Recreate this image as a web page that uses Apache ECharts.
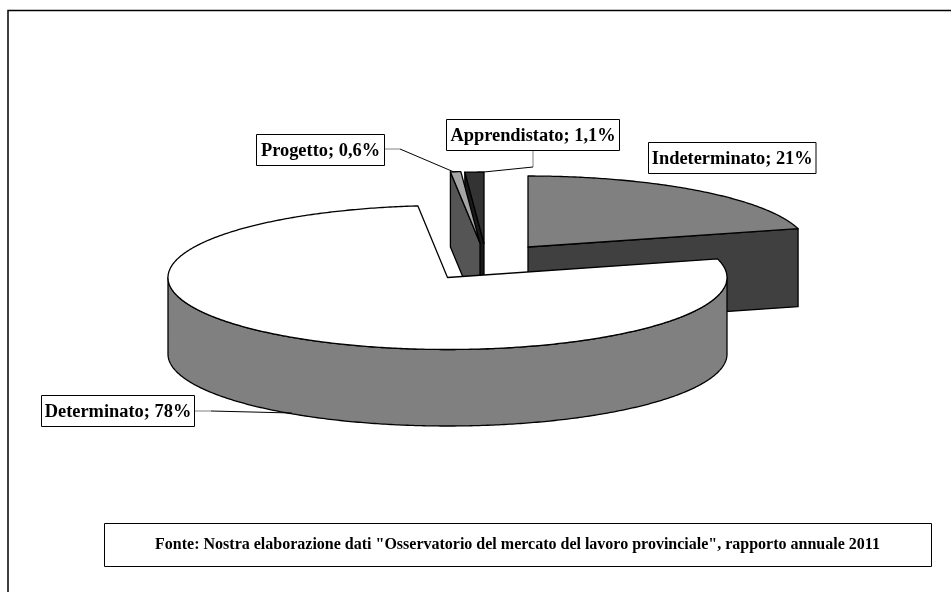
<!DOCTYPE html>
<html>
<head>
<meta charset="utf-8">
<style>
  html, body { margin: 0; padding: 0; background: #fff; }
  #chart { width: 951px; height: 592px; }
</style>
<script src="https://cdn.jsdelivr.net/npm/echarts@6/dist/echarts.min.js"></script>
</head>
<body>
<div id="chart"></div>
<script>
const categories = ['Indeterminato', 'Determinato', 'Progetto', 'Apprendistato']
const shares = [21, 78, 0.6, 1.1]
const shareLabels = ['21%', '78%', '0,6%', '1,1%']
const sourceNote = 'Fonte: Nostra elaborazione dati "Osservatorio del mercato del lavoro provinciale", rapporto annuale 2011'

const topColors = ['#808080', '#ffffff', '#a6a6a6', '#333333']
const sideColors = ['#404040', '#808080', '#555555', '#1a1a1a']

// exploded centre of every slice, painted back to front with z2
const centres = [[528, 247], [447.5, 277.5], [480, 243], [484, 243.5]]
const paintOrder = [0, 3, 2, 1]
const RX = 279.5
const radiiY = [71, 72, 71.5, 71.5]
const depths = [78, 76.5, 75, 75]

const labelBoxes = [
  { x: 648.5, y: 142.5, w: 167.5, h: 31 },
  { x: 41.5, y: 395.5, w: 153, h: 31 },
  { x: 256.5, y: 134.5, w: 128, h: 31 },
  { x: 446.5, y: 119.5, w: 173, h: 31 }
]
// first segment of a leader is the grey stub leaving the box
const leaders = [
  null,
  [[194.5, 411], [211, 411], [292, 413]],
  [[384.5, 149], [400, 149], [454, 172]],
  [[533, 150.5], [533, 167], [484, 172]]
]

const total = shares.reduce((a, b) => a + b, 0)
const angles = []
let acc = 0
shares.forEach((v) => {
  const start = acc
  acc += (v / total) * Math.PI * 2
  angles.push([start, acc])
})

function rimPoint(i, a, dy) {
  const c = centres[i]
  return [c[0] + RX * Math.sin(a), c[1] - radiiY[i] * Math.cos(a) + dy]
}

function arcPoints(i, a0, a1, dy) {
  const n = Math.max(2, Math.ceil(Math.abs(a1 - a0) / 0.01))
  const pts = []
  for (let k = 0; k <= n; k++) pts.push(rimPoint(i, a0 + ((a1 - a0) * k) / n, dy))
  return pts
}

function poly(points, fill, z2) {
  return {
    type: 'polygon',
    z2: z2,
    shape: { points: points },
    style: { fill: fill, stroke: '#000', lineWidth: 1.3, lineJoin: 'round' }
  }
}

function renderSlice(params, api) {
  const i = api.value(0)
  const c = centres[i]
  const depth = depths[i]
  const [a0, a1] = angles[i]
  const base = paintOrder.indexOf(i) * 10
  const children = []

  // cut faces that look towards the viewer
  if (i === 0) {
    const e = rimPoint(i, a1, 0)
    children.push(poly([c, e, [e[0], e[1] + depth], [c[0], c[1] + depth]], sideColors[i], base))
  }
  if (i === 2 || i === 3) {
    const s = rimPoint(i, a0, 0)
    children.push(poly([s, c, [c[0], c[1] + depth], [s[0], s[1] + depth]], sideColors[i], base))
  }
  // outer wall, only the front half of the rim shows
  const from = Math.max(a0, Math.PI / 2)
  const to = Math.min(a1, (Math.PI * 3) / 2)
  if (to > from) {
    const upper = arcPoints(i, from, to, 0)
    const lower = arcPoints(i, to, from, depth)
    children.push(poly(upper.concat(lower), sideColors[i], base + 1))
  }
  // top face
  children.push(poly([c].concat(arcPoints(i, a0, a1, 0)), topColors[i], base + 2))
  return { type: 'group', children: children }
}

function leaderPart(points, colour) {
  return {
    type: 'polyline',
    z2: 99,
    shape: { points: points },
    style: { fill: null, stroke: colour, lineWidth: 1 }
  }
}

function renderLabel(params, api) {
  const i = api.value(0)
  const b = labelBoxes[i]
  const children = [
    {
      type: 'rect',
      z2: 100,
      shape: { x: b.x, y: b.y, width: b.w, height: b.h },
      style: { fill: '#fff', stroke: '#000', lineWidth: 1 }
    },
    {
      type: 'text',
      z2: 101,
      style: {
        x: b.x + b.w / 2,
        y: b.y + b.h / 2 + 1,
        text: categories[i] + '; ' + shareLabels[i],
        fill: '#000',
        font: 'bold 18.4px "Liberation Serif"',
        align: 'center',
        verticalAlign: 'middle'
      }
    }
  ]
  if (leaders[i]) {
    children.push(leaderPart(leaders[i].slice(0, 2), '#808080'))
    children.push(leaderPart(leaders[i].slice(1), '#000'))
  }
  return { type: 'group', children: children }
}

const seriesData = categories.map((name, i) => ({ name: name, value: [i, shares[i]] }))

const myChart = echarts.init(document.getElementById('chart'), null, { renderer: 'canvas' })
myChart.setOption({
  animation: false,
  graphic: [
    {
      type: 'polyline',
      silent: true,
      shape: { points: [[8, 592], [8, 10.5], [951, 10.5]] },
      style: { fill: null, stroke: '#000', lineWidth: 1.5 }
    },
    {
      type: 'rect',
      silent: true,
      shape: { x: 104.5, y: 523.5, width: 827, height: 43 },
      style: { fill: '#fff', stroke: '#000', lineWidth: 1 }
    },
    {
      type: 'text',
      silent: true,
      style: {
        x: 517.5,
        y: 545,
        text: sourceNote,
        fill: '#000',
        font: 'bold 16px "Liberation Serif"',
        align: 'center',
        verticalAlign: 'middle'
      }
    }
  ],
  series: [
    { type: 'custom', coordinateSystem: 'none', silent: true, renderItem: renderSlice, data: seriesData },
    { type: 'custom', coordinateSystem: 'none', silent: true, z: 3, renderItem: renderLabel, data: seriesData }
  ]
})
</script>
</body>
</html>
